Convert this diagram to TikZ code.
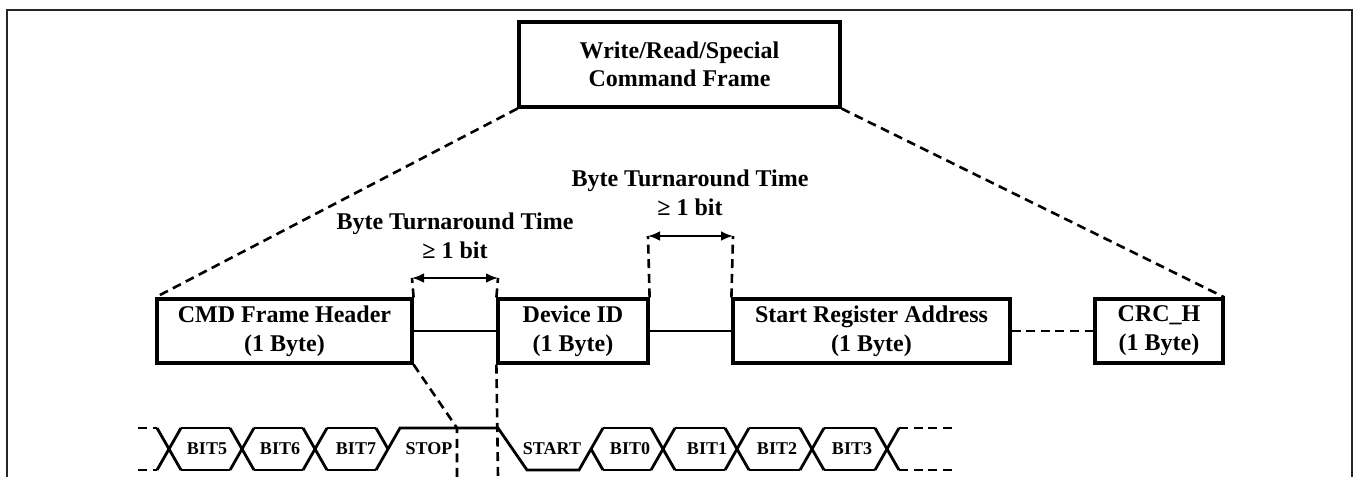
\documentclass[tikz,border=0pt]{standalone}
\usepackage{fontspec}
\setmainfont{Liberation Serif}
\usetikzlibrary{arrows.meta}

\begin{document}
\begin{tikzpicture}[x=0.5pt,y=-0.5pt,
  box/.style={draw,line width=1.6pt,align=center,inner sep=0pt,minimum height=32pt,font=\bfseries\fontsize{12}{14.5}\selectfont},
  guide/.style={line width=1.3pt,dash pattern=on 4.5pt off 2.8pt},
  wave/.style={line width=1.4pt},
  bitlbl/.style={inner sep=0pt,font=\bfseries\fontsize{9}{10}\selectfont},
  gaplbl/.style={inner sep=0pt,anchor=base,font=\bfseries\fontsize{12}{14}\selectfont},
  gaparrow/.style={line width=1.4pt,{Latex[length=6pt,width=5pt]}-{Latex[length=6pt,width=5pt]}}]
 \useasboundingbox (0,0) rectangle (1356,477);
 \draw[line width=1.1pt,black!85] (7,477) -- (7,10) -- (1352,10) -- (1352,477);

 % frame and its fields
 \node[box,minimum width=160.5pt,minimum height=42.5pt,font=\bfseries\fontsize{12}{14}\selectfont] (frame) at (679.5,64.5) {Write/Read/Special\\Command Frame};
 \node[box,minimum width=127.5pt] (cmd) at (284.5,331) {CMD Frame Header\\(1 Byte)};
 \node[box,minimum width=75pt] (devid) at (573,331) {Device ID\\(1 Byte)};
 \node[box,minimum width=138.5pt] (sra) at (871.5,331) {Start Register Address\\(1 Byte)};
 \node[box,minimum width=64pt] (crc) at (1159,331) {CRC\_H\\(1 Byte)};

 \draw[guide] (frame.south west) -- (cmd.north west);
 \draw[guide] (frame.south east) -- (crc.north east);
 \draw[wave] (cmd.east) -- (devid.west);
 \draw[wave] (devid.east) -- (sra.west);
 \draw[guide] (sra.east) -- (crc.west);

 % turnaround gaps
 \coordinate (g1) at (412,278);
 \coordinate (g2) at (498,278);
 \coordinate (g3) at (648,236);
 \coordinate (g4) at (733,236);
 \draw[guide] (cmd.north east) -- (g1);
 \draw[guide] (devid.north west) -- (g2);
 \draw[guide] (devid.north east) -- (g3);
 \draw[guide] (sra.north west) -- (g4);
 \draw[gaparrow] (g1) -- (g2);
 \draw[gaparrow] (g3) -- (g4);
 \node[gaplbl] (t1) at (455,229) {Byte Turnaround Time};
 \node[gaplbl] (b1) at (455,258) {≥ 1 bit};
 \node[gaplbl] (t2) at (690,186) {Byte Turnaround Time};
 \node[gaplbl] (b2) at (690,215) {≥ 1 bit};

 % zoom into the bits
 \coordinate (stopend) at (457,428);
 \coordinate (e1) at (457,477);
 \coordinate (e2) at (498,477);
 \draw[guide] (cmd.south east) -- (stopend) -- (e1);
 \draw[guide] (devid.south west) -- (e2);

 % bit waveform
 \draw[guide] (138,428) -- (157,428);
 \draw[guide] (138,470) -- (157,470);
 \draw[guide] (899,428) -- (953,428);
 \draw[guide] (899,470) -- (953,470);
 \foreach \c in {169,242,315,663,737,812,887} {
  \draw[wave] (\c-12,428) -- (\c+12,470);
  \draw[wave] (\c-12,470) -- (\c+12,428);
 }
 \foreach \a/\b in {181/230,254/303,327/376,603/651,675/725,749/800,824/875} {
  \draw[wave] (\a,428) -- (\b,428);
  \draw[wave] (\a,470) -- (\b,470);
 }
 \draw[wave] (376,428) -- (388,449);
 \draw[wave] (376,470) -- (400,428) -- (498,428) -- (527,470) -- (579,470) -- (603,428);
 \draw[wave] (591,449) -- (603,470);

 \node[bitlbl] (bit5) at (207,449) {BIT5};
 \node[bitlbl] (bit6) at (280,449) {BIT6};
 \node[bitlbl] (bit7) at (356,449) {BIT7};
 \node[bitlbl] (stop) at (429,449) {STOP};
 \node[bitlbl] (start) at (552,449) {START};
 \node[bitlbl] (bit0) at (630,449) {BIT0};
 \node[bitlbl] (bit1) at (707,449) {BIT1};
 \node[bitlbl] (bit2) at (777,449) {BIT2};
 \node[bitlbl] (bit3) at (852,449) {BIT3};
\end{tikzpicture}
\end{document}
